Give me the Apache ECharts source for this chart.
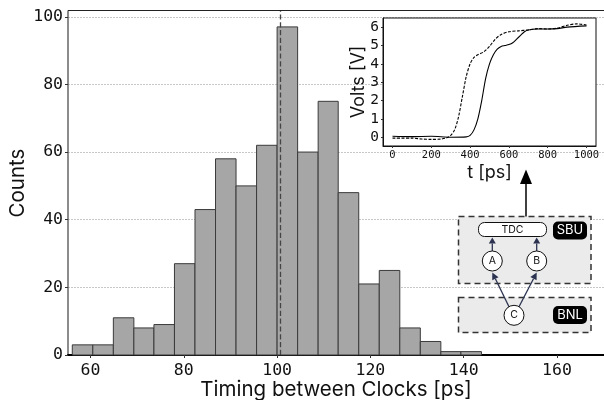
<!DOCTYPE html>
<html><head><meta charset="utf-8">
<style>html,body{margin:0;padding:0;background:#fff}#c{width:604px;height:400px}</style>
<script src="https://cdn.jsdelivr.net/npm/echarts@6/dist/echarts.min.js"></script></head>
<body><div id="c"></div>
<script>
const binEdges=[56.1,60.5,64.9,69.3,73.6,78,82.4,86.8,91.2,95.6,100,104.4,108.8,113.1,117.5,121.9,126.3,130.7,135.1,139.4,143.8];
const counts=[3,3,11,8,9,27,43,58,50,62,97,60,75,48,21,25,8,4,1,1];
const meanLine=100.6;
const xTicks=[60,80,100,120,140,160];
const yTicks=[0,20,40,60,80,100];
const insetXTicks=[0,200,400,600,800,1000];
const insetYTicks=[0,1,2,3,4,5,6];
const solidT=[0,100,200,300,380,400,420,440,460,480,500,520,540,560,580,600,620,640,660,680,700,750,800,850,900,1000];
const solidV=[0.05,0.03,0.05,0,0.02,0.1,0.4,1,2,3.2,4,4.5,4.8,4.95,5,5.05,5.15,5.35,5.55,5.75,5.85,5.9,5.9,5.92,6,6.07];
const dashT=[0,100,150,200,250,280,300,320,340,360,380,400,420,440,470,500,530,560,600,650,700,750,800,850,900,950,1000];
const dashV=[-0.05,-0.05,-0.1,-0.12,-0.1,-0.03,0.1,0.4,1.1,2.2,3.3,4,4.35,4.5,4.65,4.95,5.35,5.6,5.75,5.8,5.85,5.92,5.9,5.95,6.1,6.18,6.12];

const mono='"DejaVu Sans Mono"', sans='Inter';
const histData=counts.map((c,i)=>[binEdges[i],binEdges[i+1],c]);
const zip=(a,b)=>a.map((v,i)=>[v,b[i]]);
const chart=echarts.init(document.getElementById('c'),null,{renderer:'canvas'});

const ink='#2b3350', dash=[6,4];
const box=(x,y,w,h)=>({type:'rect',shape:{x,y,width:w,height:h},style:{fill:'#ebebeb',stroke:'#333',lineWidth:1.5,lineDash:dash},z:10});
const circle=(cx,cy,t)=>[{type:'circle',shape:{cx,cy,r:10},style:{fill:'#fff',stroke:'#111',lineWidth:1},z:13},
  {type:'text',x:cx,y:cy,style:{text:t,font:'10.5px '+sans,fill:'#111',align:'center',verticalAlign:'middle'},z:14}];
const tag=(x,y,w,h,t)=>[{type:'rect',shape:{x,y,width:w,height:h,r:5},style:{fill:'#000'},z:12},
  {type:'text',x:x+w/2,y:y+h/2,style:{text:t,font:'13px '+sans,fill:'#fff',align:'center',verticalAlign:'middle'},z:13}];
const arrow=(x1,y1,x2,y2,c,lw,hl,hw)=>{const a=Math.atan2(y2-y1,x2-x1),bx=x2-hl*Math.cos(a),by=y2-hl*Math.sin(a),nx=-Math.sin(a)*hw,ny=Math.cos(a)*hw;
  return [{type:'line',shape:{x1,y1,x2:bx,y2:by},style:{stroke:c,lineWidth:lw},z:11},
  {type:'polygon',shape:{points:[[x2,y2],[bx+nx,by+ny],[bx-nx,by-ny]]},style:{fill:c},z:11}];};

chart.setOption({
  animation:false,
  backgroundColor:'#fff',
  grid:[
    {left:68,top:11,width:536,height:344,show:false,z:0,outerBoundsMode:'none'},
    {left:383,top:18,width:213,height:128,show:true,backgroundColor:'#fff',borderColor:'#111',borderWidth:1,z:1,outerBoundsMode:'none'}
  ],
  xAxis:[
    {type:'value',gridIndex:0,min:55.18,max:170.07,
     axisLine:{show:true,lineStyle:{color:'#000',width:2}},
     axisTick:{show:true,customValues:xTicks,length:3,lineStyle:{color:'#333'}},
     axisLabel:{customValues:xTicks,fontFamily:mono,fontSize:16.5,color:'#111',margin:7},
     splitLine:{show:false},
     name:'Timing between Clocks [ps]',nameLocation:'middle',nameGap:24,nameMoveOverlap:false,
     nameTextStyle:{fontFamily:sans,fontSize:20.5,color:'#111'}},
    {type:'value',gridIndex:1,min:-49,max:1049,z:3,
     axisLine:{show:true,onZero:false,lineStyle:{color:'#111',width:1}},
     axisTick:{show:true,customValues:insetXTicks,length:2,lineStyle:{color:'#333'}},
     axisLabel:{customValues:insetXTicks,formatter:v=>String(v),fontFamily:mono,fontSize:10.5,color:'#111',margin:4},
     splitLine:{show:false},
     name:'t [ps]',nameLocation:'middle',nameGap:18,nameMoveOverlap:false,
     nameTextStyle:{fontFamily:sans,fontSize:18,color:'#111'}}
  ],
  yAxis:[
    {type:'value',gridIndex:0,min:0,max:101.7,
     axisLine:{show:true,lineStyle:{color:'#666',width:1.5}},
     axisTick:{show:true,customValues:yTicks,length:3,lineStyle:{color:'#333'}},
     axisLabel:{customValues:yTicks,fontFamily:mono,fontSize:16.5,color:'#111',margin:5},
     splitLine:{show:true,lineStyle:{color:'#c8c8c8',type:[2,1],width:1}},
     name:'Counts',nameLocation:'middle',nameGap:40,nameMoveOverlap:false,
     nameTextStyle:{fontFamily:sans,fontSize:20.5,color:'#111'}},
    {type:'value',gridIndex:1,min:-0.48,max:6.5,z:3,
     axisLine:{show:true,onZero:false,lineStyle:{color:'#111',width:1}},
     axisTick:{show:true,customValues:insetYTicks,length:2,lineStyle:{color:'#333'}},
     axisLabel:{customValues:insetYTicks,fontFamily:mono,fontSize:14.5,color:'#111',margin:4},
     splitLine:{show:false},
     name:'Volts [V]',nameLocation:'middle',nameGap:15,nameMoveOverlap:false,
     nameTextStyle:{fontFamily:sans,fontSize:18,color:'#111'}}
  ],
  series:[
    {type:'custom',xAxisIndex:0,yAxisIndex:0,data:histData,z:2,clip:false,
     encode:{x:[0,1],y:2},
     renderItem:(p,api)=>{const a=api.coord([api.value(0),api.value(2)]),b=api.coord([api.value(1),0]);
       return {type:'rect',shape:{x:a[0],y:a[1],width:b[0]-a[0],height:b[1]-a[1]},
         style:{fill:'#a6a6a6',stroke:'#3a3a3a',lineWidth:1}};},
     markLine:{silent:true,symbol:'none',label:{show:false},z:3,
       lineStyle:{color:'#444',type:'dashed',width:1.3},data:[{xAxis:meanLine}]}},
    {type:'line',xAxisIndex:1,yAxisIndex:1,data:zip(solidT,solidV),showSymbol:false,smooth:0.3,z:5,
     lineStyle:{color:'#000',width:1.1}},
    {type:'line',xAxisIndex:1,yAxisIndex:1,data:zip(dashT,dashV),showSymbol:false,smooth:0.3,z:5,
     lineStyle:{color:'#000',width:1.1,type:[3,1.5]}}
  ],
  graphic:[
    {type:'line',shape:{x1:68,y1:10.5,x2:604,y2:10.5},style:{stroke:'#222',lineWidth:1},z:1},
    box(458.5,216.5,132.5,67),
    box(458.5,297.5,132.5,35),
    {type:'rect',shape:{x:478.5,y:222.5,width:68,height:14,r:6},style:{fill:'#fff',stroke:'#111',lineWidth:1},z:12},
    {type:'text',x:512.5,y:229.5,style:{text:'TDC',font:'10.5px '+sans,fill:'#111',align:'center',verticalAlign:'middle'},z:13},
    ...tag(553,221.5,34,18,'SBU'),
    ...tag(553,306,34,18,'BNL'),
    ...arrow(492.3,251,492.3,237.5,ink,1.3,6,3.5),
    ...arrow(536.7,251,536.7,237.5,ink,1.3,6,3.5),
    ...arrow(509,306.7,492.3,272.5,ink,1.3,7,3.5),
    ...arrow(519,306.7,536.7,272.5,ink,1.3,7,3.5),
    ...arrow(526,216.5,526,169.5,'#000',1.5,14.5,6),
    ...circle(492.3,261,'A'),
    ...circle(536.7,261,'B'),
    ...circle(514,315.3,'C')
  ]
});
</script></body></html>
